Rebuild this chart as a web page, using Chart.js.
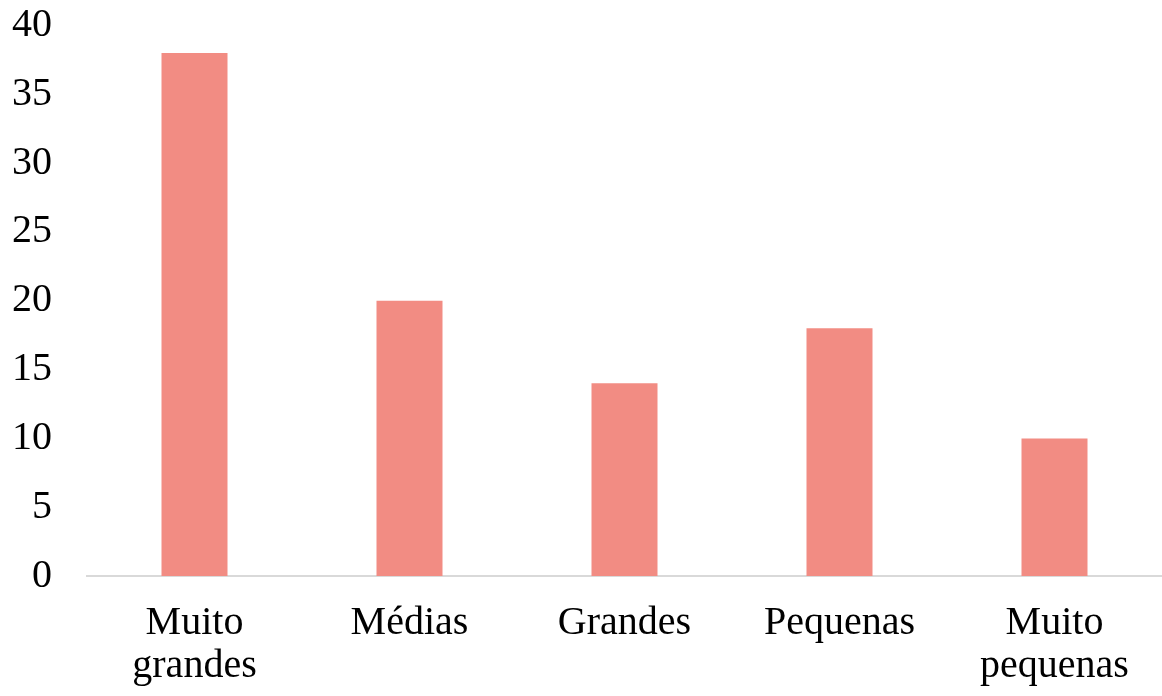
<!DOCTYPE html>
<html>
<head>
<meta charset="utf-8">
<style>
  html, body { margin: 0; padding: 0; background: #ffffff; }
  #wrap { position: relative; width: 1162px; height: 696px; }
</style>
<script src="https://cdn.jsdelivr.net/npm/chart.js@4/dist/chart.umd.min.js"></script>
</head>
<body>
<div id="wrap"><canvas id="c"></canvas></div>
<script>
const categories = [['Muito', 'grandes'], 'Médias', 'Grandes', 'Pequenas', ['Muito', 'pequenas']];
const values = [38, 20, 14, 18, 10];
const yTicks = [0, 5, 10, 15, 20, 25, 30, 35, 40];

const FONT = { family: '"Liberation Serif", "Times New Roman", serif', size: 40, lineHeight: 1.08 };

new Chart(document.getElementById('c'), {
  type: 'bar',
  data: {
    labels: categories,
    datasets: [{
      data: values,
      backgroundColor: '#F28C83',
      borderWidth: 0,
      categoryPercentage: 1,
      barPercentage: 0.307
    }]
  },
  options: {
    responsive: true,
    maintainAspectRatio: false,
    animation: false,
    layout: { padding: { top: 0, right: 0, bottom: 0, left: 0 } },
    plugins: { legend: { display: false }, tooltip: { enabled: false } },
    scales: {
      x: {
        grid: { display: false, drawTicks: false },
        border: { display: true, color: '#d9d9d9', width: 2 },
        ticks: { color: '#000', font: FONT, padding: 26, maxRotation: 0, autoSkip: false },
        afterFit: (s) => { s.height = 120; s.paddingLeft = 0; s.paddingRight = 0; }
      },
      y: {
        min: 0,
        max: 40,
        afterBuildTicks: (s) => { s.ticks = yTicks.map(v => ({ value: v })); },
        grid: { display: false, drawTicks: false },
        border: { display: false },
        ticks: { color: '#000', font: FONT, padding: 35 },
        afterFit: (s) => { s.width = 87; s.paddingTop = 25.5; s.paddingBottom = 0; }
      }
    }
  }
});
</script>
</body>
</html>
